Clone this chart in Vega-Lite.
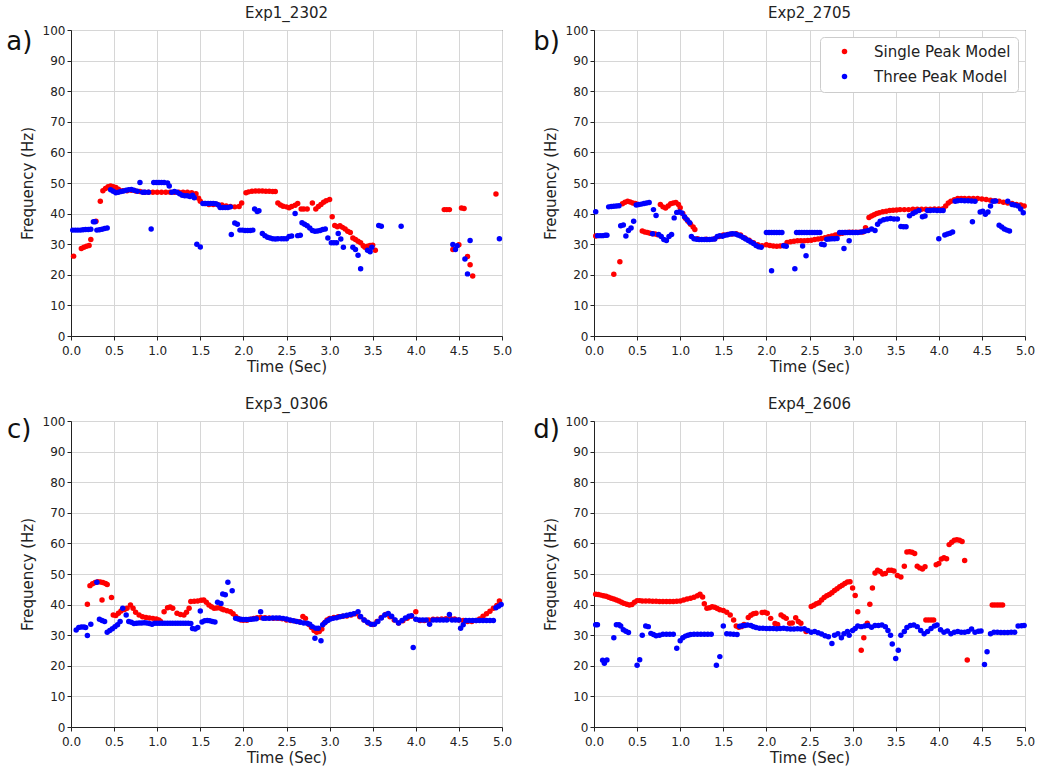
{
"$schema":"https://vega.github.io/schema/vega-lite/v6.json",
"background":"white",
"padding":5,
"config":{
 "font":"DejaVu Sans",
 "view":{"stroke":"#333","strokeWidth":1},
 "title":{"fontSize":15,"fontWeight":"normal","font":"DejaVu Sans","color":"#222","offset":3},
 "axis":{"labelFontSize":12,"titleFontSize":15,"titleFontWeight":"normal","labelFont":"DejaVu Sans","titleFont":"DejaVu Sans","gridColor":"#d6d6d6","domainColor":"#222","tickColor":"#222","labelColor":"#222","titleColor":"#222","tickSize":4,"labelOverlap":false,"labelFlush":false},
 "axisX":{"labelPadding":5,"titlePadding":3},
 "legend":{"labelFont":"DejaVu Sans"}
},
"resolve":{"legend":{"color":"independent"}},
"columns":2,
"spacing":{"row":21,"column":19},
"datasets":{
"a":[
{"m":"S","t":0.03,"f":26.1},{"m":"S","t":0.12,"f":28.6},{"m":"S","t":0.15,"f":29},{"m":"S","t":0.18,"f":29.3},{"m":"S","t":0.21,"f":29.6},{"m":"S","t":0.23,"f":31.5},{"m":"S","t":0.29,"f":37.5},{"m":"S","t":0.34,"f":44},{"m":"S","t":0.37,"f":47.5},{"m":"S","t":0.4,"f":48.2},{"m":"S","t":0.43,"f":48.8},{"m":"S","t":0.46,"f":49},{"m":"S","t":0.49,"f":48.8},{"m":"S","t":0.52,"f":48.5},{"m":"S","t":0.55,"f":48},{"m":"S","t":0.6,"f":47.5},{"m":"S","t":0.65,"f":47.5},{"m":"S","t":0.7,"f":47.6},{"m":"S","t":0.75,"f":47.4},{"m":"S","t":0.8,"f":47.2},{"m":"S","t":0.85,"f":47},{"m":"S","t":0.9,"f":47},{"m":"S","t":0.95,"f":47},{"m":"S","t":1.0,"f":47},{"m":"S","t":1.05,"f":47},{"m":"S","t":1.1,"f":47},{"m":"S","t":1.15,"f":47},{"m":"S","t":1.2,"f":47},{"m":"S","t":1.25,"f":47},{"m":"S","t":1.3,"f":47},{"m":"S","t":1.35,"f":47},{"m":"S","t":1.4,"f":46.8},{"m":"S","t":1.45,"f":46.5},{"m":"S","t":1.48,"f":45},{"m":"S","t":1.5,"f":44},{"m":"S","t":1.55,"f":43.3},{"m":"S","t":1.6,"f":43},{"m":"S","t":1.65,"f":43},{"m":"S","t":1.7,"f":43},{"m":"S","t":1.75,"f":42.8},{"m":"S","t":1.8,"f":42.5},{"m":"S","t":1.85,"f":42.3},{"m":"S","t":1.9,"f":42.2},{"m":"S","t":1.95,"f":42.3},{"m":"S","t":1.98,"f":43.5},{"m":"S","t":2.03,"f":46.8},{"m":"S","t":2.06,"f":47.1},{"m":"S","t":2.1,"f":47.3},{"m":"S","t":2.14,"f":47.4},{"m":"S","t":2.18,"f":47.4},{"m":"S","t":2.22,"f":47.4},{"m":"S","t":2.26,"f":47.3},{"m":"S","t":2.3,"f":47.3},{"m":"S","t":2.34,"f":47.2},{"m":"S","t":2.37,"f":47.2},{"m":"S","t":2.4,"f":43.5},{"m":"S","t":2.43,"f":42.8},{"m":"S","t":2.46,"f":42.4},{"m":"S","t":2.5,"f":42.2},{"m":"S","t":2.53,"f":41.9},{"m":"S","t":2.56,"f":42.3},{"m":"S","t":2.6,"f":42.7},{"m":"S","t":2.63,"f":43.3},{"m":"S","t":2.67,"f":41.5},{"m":"S","t":2.7,"f":41.5},{"m":"S","t":2.74,"f":41.5},{"m":"S","t":2.8,"f":43.5},{"m":"S","t":2.84,"f":41.5},{"m":"S","t":2.87,"f":42.3},{"m":"S","t":2.9,"f":43},{"m":"S","t":2.93,"f":43.7},{"m":"S","t":2.96,"f":44.2},{"m":"S","t":3.0,"f":44.6},{"m":"S","t":3.03,"f":39},{"m":"S","t":3.06,"f":36.1},{"m":"S","t":3.09,"f":35.7},{"m":"S","t":3.12,"f":36},{"m":"S","t":3.15,"f":35.5},{"m":"S","t":3.18,"f":35},{"m":"S","t":3.21,"f":34.2},{"m":"S","t":3.24,"f":33.8},{"m":"S","t":3.27,"f":32},{"m":"S","t":3.3,"f":31.5},{"m":"S","t":3.33,"f":31},{"m":"S","t":3.36,"f":30.5},{"m":"S","t":3.39,"f":29.5},{"m":"S","t":3.41,"f":29},{"m":"S","t":3.44,"f":29.3},{"m":"S","t":3.47,"f":29.6},{"m":"S","t":3.5,"f":29.7},{"m":"S","t":3.53,"f":28},{"m":"S","t":4.33,"f":41.3},{"m":"S","t":4.36,"f":41.3},{"m":"S","t":4.39,"f":41.3},{"m":"S","t":4.43,"f":28.3},{"m":"S","t":4.5,"f":29.8},{"m":"S","t":4.53,"f":41.8},{"m":"S","t":4.56,"f":41.7},{"m":"S","t":4.6,"f":26},{"m":"S","t":4.63,"f":23.3},{"m":"S","t":4.66,"f":19.6},{"m":"S","t":4.93,"f":46.4},
{"m":"T","t":0.02,"f":34.6},{"m":"T","t":0.05,"f":34.6},{"m":"T","t":0.08,"f":34.6},{"m":"T","t":0.11,"f":34.6},{"m":"T","t":0.14,"f":34.7},{"m":"T","t":0.17,"f":34.8},{"m":"T","t":0.2,"f":34.8},{"m":"T","t":0.23,"f":34.9},{"m":"T","t":0.26,"f":37.3},{"m":"T","t":0.28,"f":37.3},{"m":"T","t":0.3,"f":34.6},{"m":"T","t":0.33,"f":34.7},{"m":"T","t":0.36,"f":34.9},{"m":"T","t":0.39,"f":35.1},{"m":"T","t":0.42,"f":35.3},{"m":"T","t":0.46,"f":47.8},{"m":"T","t":0.49,"f":47.3},{"m":"T","t":0.52,"f":46.8},{"m":"T","t":0.55,"f":47},{"m":"T","t":0.58,"f":47.2},{"m":"T","t":0.61,"f":47.4},{"m":"T","t":0.64,"f":47.6},{"m":"T","t":0.67,"f":47.8},{"m":"T","t":0.7,"f":47.9},{"m":"T","t":0.73,"f":47.6},{"m":"T","t":0.77,"f":47.3},{"m":"T","t":0.8,"f":50.2},{"m":"T","t":0.83,"f":47},{"m":"T","t":0.86,"f":47},{"m":"T","t":0.9,"f":47},{"m":"T","t":0.93,"f":35},{"m":"T","t":0.96,"f":50.2},{"m":"T","t":0.99,"f":50.2},{"m":"T","t":1.02,"f":50.2},{"m":"T","t":1.05,"f":50.2},{"m":"T","t":1.08,"f":50.2},{"m":"T","t":1.12,"f":50},{"m":"T","t":1.14,"f":49},{"m":"T","t":1.17,"f":47},{"m":"T","t":1.2,"f":47.2},{"m":"T","t":1.23,"f":47},{"m":"T","t":1.26,"f":46.5},{"m":"T","t":1.29,"f":46},{"m":"T","t":1.32,"f":45.8},{"m":"T","t":1.35,"f":45.8},{"m":"T","t":1.38,"f":45.6},{"m":"T","t":1.41,"f":46},{"m":"T","t":1.43,"f":45.2},{"m":"T","t":1.46,"f":30},{"m":"T","t":1.5,"f":29.1},{"m":"T","t":1.53,"f":43.3},{"m":"T","t":1.56,"f":43.3},{"m":"T","t":1.59,"f":43.3},{"m":"T","t":1.62,"f":43.3},{"m":"T","t":1.65,"f":43.3},{"m":"T","t":1.68,"f":43.2},{"m":"T","t":1.71,"f":42.8},{"m":"T","t":1.73,"f":42},{"m":"T","t":1.76,"f":42},{"m":"T","t":1.79,"f":42},{"m":"T","t":1.82,"f":42},{"m":"T","t":1.85,"f":42.2},{"m":"T","t":1.86,"f":33.2},{"m":"T","t":1.9,"f":36.9},{"m":"T","t":1.93,"f":36.5},{"m":"T","t":1.96,"f":34.6},{"m":"T","t":1.99,"f":34.6},{"m":"T","t":2.02,"f":34.5},{"m":"T","t":2.05,"f":34.5},{"m":"T","t":2.08,"f":34.5},{"m":"T","t":2.11,"f":34.6},{"m":"T","t":2.13,"f":41.5},{"m":"T","t":2.16,"f":40.7},{"m":"T","t":2.18,"f":40.9},{"m":"T","t":2.22,"f":33.5},{"m":"T","t":2.25,"f":32.8},{"m":"T","t":2.28,"f":32.3},{"m":"T","t":2.31,"f":32},{"m":"T","t":2.34,"f":31.8},{"m":"T","t":2.37,"f":31.7},{"m":"T","t":2.4,"f":31.8},{"m":"T","t":2.44,"f":31.8},{"m":"T","t":2.47,"f":31.8},{"m":"T","t":2.5,"f":31.8},{"m":"T","t":2.53,"f":32.5},{"m":"T","t":2.56,"f":32.7},{"m":"T","t":2.6,"f":40},{"m":"T","t":2.63,"f":32.8},{"m":"T","t":2.66,"f":32.9},{"m":"T","t":2.68,"f":37},{"m":"T","t":2.71,"f":36.5},{"m":"T","t":2.74,"f":36},{"m":"T","t":2.77,"f":35.3},{"m":"T","t":2.8,"f":34.5},{"m":"T","t":2.83,"f":34.2},{"m":"T","t":2.86,"f":34.3},{"m":"T","t":2.89,"f":34.5},{"m":"T","t":2.92,"f":34.8},{"m":"T","t":2.95,"f":35},{"m":"T","t":2.98,"f":32},{"m":"T","t":3.02,"f":30.5},{"m":"T","t":3.05,"f":30.5},{"m":"T","t":3.08,"f":30.5},{"m":"T","t":3.1,"f":33.5},{"m":"T","t":3.13,"f":31.7},{"m":"T","t":3.16,"f":29},{"m":"T","t":3.27,"f":29},{"m":"T","t":3.3,"f":28.3},{"m":"T","t":3.33,"f":26.4},{"m":"T","t":3.36,"f":22},{"m":"T","t":3.44,"f":28},{"m":"T","t":3.47,"f":27.5},{"m":"T","t":3.49,"f":29},{"m":"T","t":3.57,"f":36.1},{"m":"T","t":3.6,"f":35.9},{"m":"T","t":3.83,"f":35.9},{"m":"T","t":4.43,"f":29.9},{"m":"T","t":4.46,"f":28.3},{"m":"T","t":4.48,"f":29.5},{"m":"T","t":4.57,"f":25.2},{"m":"T","t":4.6,"f":20.3},{"m":"T","t":4.63,"f":31.2},{"m":"T","t":4.97,"f":31.8}
],
"b":[
{"m":"S","t":0.02,"f":32.7},{"m":"S","t":0.23,"f":20.2},{"m":"S","t":0.3,"f":24.3},{"m":"S","t":0.33,"f":43.2},{"m":"S","t":0.36,"f":43.7},{"m":"S","t":0.39,"f":44},{"m":"S","t":0.42,"f":43.8},{"m":"S","t":0.45,"f":43.5},{"m":"S","t":0.48,"f":43.3},{"m":"S","t":0.51,"f":43},{"m":"S","t":0.56,"f":34.3},{"m":"S","t":0.59,"f":34},{"m":"S","t":0.62,"f":33.8},{"m":"S","t":0.65,"f":33.6},{"m":"S","t":0.68,"f":33.4},{"m":"S","t":0.71,"f":33.3},{"m":"S","t":0.74,"f":33.1},{"m":"S","t":0.77,"f":43},{"m":"S","t":0.8,"f":42.2},{"m":"S","t":0.83,"f":41.8},{"m":"S","t":0.86,"f":42.5},{"m":"S","t":0.89,"f":43.2},{"m":"S","t":0.92,"f":43.5},{"m":"S","t":0.95,"f":43.6},{"m":"S","t":0.98,"f":43},{"m":"S","t":1.0,"f":41.9},{"m":"S","t":1.03,"f":40},{"m":"S","t":1.06,"f":38.5},{"m":"S","t":1.09,"f":37.5},{"m":"S","t":1.12,"f":36.5},{"m":"S","t":1.15,"f":35.6},{"m":"S","t":1.17,"f":34.8},{"m":"S","t":1.2,"f":31.8},{"m":"S","t":1.3,"f":31.6},{"m":"S","t":1.4,"f":31.8},{"m":"S","t":1.45,"f":32.5},{"m":"S","t":1.5,"f":33},{"m":"S","t":1.55,"f":33.2},{"m":"S","t":1.6,"f":33.3},{"m":"S","t":1.65,"f":33.4},{"m":"S","t":1.7,"f":33},{"m":"S","t":1.75,"f":32},{"m":"S","t":1.8,"f":31.3},{"m":"S","t":1.85,"f":30.5},{"m":"S","t":1.9,"f":29.8},{"m":"S","t":1.95,"f":29.5},{"m":"S","t":2.0,"f":29.8},{"m":"S","t":2.04,"f":29.6},{"m":"S","t":2.08,"f":29.4},{"m":"S","t":2.12,"f":29.3},{"m":"S","t":2.16,"f":29.4},{"m":"S","t":2.2,"f":29.6},{"m":"S","t":2.24,"f":30.6},{"m":"S","t":2.28,"f":30.8},{"m":"S","t":2.32,"f":31},{"m":"S","t":2.36,"f":31.1},{"m":"S","t":2.4,"f":31.1},{"m":"S","t":2.44,"f":31.1},{"m":"S","t":2.48,"f":31.2},{"m":"S","t":2.52,"f":31.3},{"m":"S","t":2.56,"f":31.5},{"m":"S","t":2.6,"f":31.7},{"m":"S","t":2.64,"f":31.9},{"m":"S","t":2.68,"f":32.1},{"m":"S","t":2.72,"f":32.4},{"m":"S","t":2.76,"f":32.7},{"m":"S","t":2.8,"f":33},{"m":"S","t":2.84,"f":33.3},{"m":"S","t":2.88,"f":33.6},{"m":"S","t":2.92,"f":33.8},{"m":"S","t":2.96,"f":33.9},{"m":"S","t":3.0,"f":33.9},{"m":"S","t":3.04,"f":33.9},{"m":"S","t":3.08,"f":33.9},{"m":"S","t":3.12,"f":34},{"m":"S","t":3.15,"f":35.4},{"m":"S","t":3.19,"f":38.7},{"m":"S","t":3.22,"f":39.2},{"m":"S","t":3.25,"f":39.6},{"m":"S","t":3.28,"f":40},{"m":"S","t":3.31,"f":40.3},{"m":"S","t":3.35,"f":40.6},{"m":"S","t":3.39,"f":40.8},{"m":"S","t":3.43,"f":41},{"m":"S","t":3.47,"f":41.1},{"m":"S","t":3.51,"f":41.2},{"m":"S","t":3.55,"f":41.3},{"m":"S","t":3.6,"f":41.3},{"m":"S","t":3.65,"f":41.3},{"m":"S","t":3.7,"f":41.4},{"m":"S","t":3.75,"f":41.4},{"m":"S","t":3.8,"f":41.4},{"m":"S","t":3.85,"f":41.4},{"m":"S","t":3.9,"f":41.4},{"m":"S","t":3.95,"f":41.5},{"m":"S","t":4.0,"f":41.5},{"m":"S","t":4.05,"f":41.6},{"m":"S","t":4.08,"f":42.5},{"m":"S","t":4.11,"f":43.5},{"m":"S","t":4.14,"f":44},{"m":"S","t":4.18,"f":44.5},{"m":"S","t":4.22,"f":44.9},{"m":"S","t":4.26,"f":44.9},{"m":"S","t":4.3,"f":44.9},{"m":"S","t":4.35,"f":44.9},{"m":"S","t":4.4,"f":44.9},{"m":"S","t":4.45,"f":44.9},{"m":"S","t":4.5,"f":44.8},{"m":"S","t":4.55,"f":44.6},{"m":"S","t":4.6,"f":44.4},{"m":"S","t":4.65,"f":44.2},{"m":"S","t":4.7,"f":44},{"m":"S","t":4.75,"f":43.7},{"m":"S","t":4.8,"f":43.5},{"m":"S","t":4.85,"f":43.3},{"m":"S","t":4.9,"f":43},{"m":"S","t":4.95,"f":42.8},{"m":"S","t":4.99,"f":42.5},
{"m":"T","t":0.02,"f":40.6},{"m":"T","t":0.04,"f":32.8},{"m":"T","t":0.07,"f":32.8},{"m":"T","t":0.1,"f":32.8},{"m":"T","t":0.13,"f":32.9},{"m":"T","t":0.15,"f":32.9},{"m":"T","t":0.17,"f":42.2},{"m":"T","t":0.2,"f":42.3},{"m":"T","t":0.23,"f":42.4},{"m":"T","t":0.26,"f":42.5},{"m":"T","t":0.29,"f":42.6},{"m":"T","t":0.31,"f":36},{"m":"T","t":0.34,"f":36.3},{"m":"T","t":0.37,"f":32.7},{"m":"T","t":0.4,"f":34.5},{"m":"T","t":0.43,"f":35.3},{"m":"T","t":0.46,"f":37.5},{"m":"T","t":0.49,"f":42.8},{"m":"T","t":0.52,"f":43},{"m":"T","t":0.55,"f":43.1},{"m":"T","t":0.58,"f":43.3},{"m":"T","t":0.61,"f":43.5},{"m":"T","t":0.64,"f":43.6},{"m":"T","t":0.69,"f":41.3},{"m":"T","t":0.72,"f":39.4},{"m":"T","t":0.68,"f":33.4},{"m":"T","t":0.75,"f":33.2},{"m":"T","t":0.78,"f":32.5},{"m":"T","t":0.81,"f":31.5},{"m":"T","t":0.84,"f":31.2},{"m":"T","t":0.87,"f":32.5},{"m":"T","t":0.9,"f":33.2},{"m":"T","t":0.93,"f":38.6},{"m":"T","t":0.96,"f":40.4},{"m":"T","t":0.99,"f":40.5},{"m":"T","t":1.02,"f":40.2},{"m":"T","t":1.05,"f":39},{"m":"T","t":1.08,"f":38},{"m":"T","t":1.11,"f":37},{"m":"T","t":1.13,"f":32.5},{"m":"T","t":1.16,"f":31.8},{"m":"T","t":1.19,"f":31.6},{"m":"T","t":1.22,"f":31.5},{"m":"T","t":1.25,"f":31.5},{"m":"T","t":1.28,"f":31.5},{"m":"T","t":1.31,"f":31.5},{"m":"T","t":1.34,"f":31.5},{"m":"T","t":1.37,"f":31.6},{"m":"T","t":1.4,"f":31.7},{"m":"T","t":1.43,"f":32.5},{"m":"T","t":1.46,"f":32.8},{"m":"T","t":1.49,"f":32.6},{"m":"T","t":1.52,"f":32.9},{"m":"T","t":1.55,"f":33.1},{"m":"T","t":1.58,"f":33.3},{"m":"T","t":1.61,"f":33.4},{"m":"T","t":1.64,"f":33.3},{"m":"T","t":1.67,"f":33},{"m":"T","t":1.7,"f":32.7},{"m":"T","t":1.73,"f":32.2},{"m":"T","t":1.76,"f":31.7},{"m":"T","t":1.79,"f":31.2},{"m":"T","t":1.82,"f":30.7},{"m":"T","t":1.85,"f":30.2},{"m":"T","t":1.88,"f":29.6},{"m":"T","t":1.91,"f":29.2},{"m":"T","t":1.94,"f":29},{"m":"T","t":2.0,"f":33.8},{"m":"T","t":2.03,"f":33.8},{"m":"T","t":2.06,"f":21.3},{"m":"T","t":2.06,"f":33.8},{"m":"T","t":2.09,"f":33.8},{"m":"T","t":2.12,"f":33.8},{"m":"T","t":2.15,"f":33.8},{"m":"T","t":2.18,"f":33.8},{"m":"T","t":2.2,"f":29.5},{"m":"T","t":2.23,"f":29.3},{"m":"T","t":2.33,"f":22},{"m":"T","t":2.35,"f":33.8},{"m":"T","t":2.38,"f":33.8},{"m":"T","t":2.41,"f":33.8},{"m":"T","t":2.44,"f":33.8},{"m":"T","t":2.42,"f":29.4},{"m":"T","t":2.46,"f":26.2},{"m":"T","t":2.47,"f":33.8},{"m":"T","t":2.5,"f":33.8},{"m":"T","t":2.53,"f":33.8},{"m":"T","t":2.56,"f":33.8},{"m":"T","t":2.59,"f":33.8},{"m":"T","t":2.62,"f":33.8},{"m":"T","t":2.64,"f":30},{"m":"T","t":2.67,"f":29.8},{"m":"T","t":2.7,"f":31.6},{"m":"T","t":2.73,"f":31.7},{"m":"T","t":2.76,"f":31.8},{"m":"T","t":2.79,"f":31.8},{"m":"T","t":2.82,"f":31.9},{"m":"T","t":2.85,"f":33.8},{"m":"T","t":2.88,"f":33.8},{"m":"T","t":2.9,"f":28.6},{"m":"T","t":2.91,"f":33.8},{"m":"T","t":2.94,"f":33.8},{"m":"T","t":2.96,"f":31.1},{"m":"T","t":2.97,"f":33.8},{"m":"T","t":3.0,"f":33.8},{"m":"T","t":3.03,"f":33.8},{"m":"T","t":3.06,"f":33.8},{"m":"T","t":3.1,"f":34},{"m":"T","t":3.14,"f":34.2},{"m":"T","t":3.18,"f":34.5},{"m":"T","t":3.22,"f":35},{"m":"T","t":3.26,"f":34.5},{"m":"T","t":3.29,"f":36.5},{"m":"T","t":3.32,"f":37.5},{"m":"T","t":3.36,"f":38},{"m":"T","t":3.4,"f":38.2},{"m":"T","t":3.44,"f":38.4},{"m":"T","t":3.48,"f":38.2},{"m":"T","t":3.52,"f":38.2},{"m":"T","t":3.56,"f":35.8},{"m":"T","t":3.59,"f":35.7},{"m":"T","t":3.62,"f":35.7},{"m":"T","t":3.66,"f":39.3},{"m":"T","t":3.7,"f":40},{"m":"T","t":3.73,"f":40.5},{"m":"T","t":3.77,"f":41},{"m":"T","t":3.81,"f":39},{"m":"T","t":3.84,"f":39.2},{"m":"T","t":3.87,"f":41},{"m":"T","t":3.9,"f":41},{"m":"T","t":3.94,"f":41.1},{"m":"T","t":3.98,"f":41},{"m":"T","t":4.0,"f":31.8},{"m":"T","t":4.02,"f":41},{"m":"T","t":4.05,"f":41},{"m":"T","t":4.07,"f":33},{"m":"T","t":4.1,"f":33.3},{"m":"T","t":4.13,"f":33.6},{"m":"T","t":4.16,"f":34},{"m":"T","t":4.19,"f":44},{"m":"T","t":4.22,"f":44.2},{"m":"T","t":4.26,"f":44.3},{"m":"T","t":4.3,"f":44.2},{"m":"T","t":4.34,"f":44.2},{"m":"T","t":4.38,"f":44.1},{"m":"T","t":4.39,"f":37.3},{"m":"T","t":4.42,"f":44},{"m":"T","t":4.48,"f":40.5},{"m":"T","t":4.51,"f":40.8},{"m":"T","t":4.54,"f":39.8},{"m":"T","t":4.57,"f":40.5},{"m":"T","t":4.6,"f":42.5},{"m":"T","t":4.63,"f":44},{"m":"T","t":4.66,"f":44.1},{"m":"T","t":4.7,"f":36.2},{"m":"T","t":4.73,"f":35.6},{"m":"T","t":4.76,"f":35},{"m":"T","t":4.79,"f":34.6},{"m":"T","t":4.82,"f":34.3},{"m":"T","t":4.8,"f":44},{"m":"T","t":4.85,"f":43},{"m":"T","t":4.88,"f":42.8},{"m":"T","t":4.92,"f":42.5},{"m":"T","t":4.95,"f":41.5},{"m":"T","t":4.98,"f":40.3}
],
"c":[
{"m":"S","t":0.19,"f":40.1},{"m":"S","t":0.22,"f":46.2},{"m":"S","t":0.25,"f":46.8},{"m":"S","t":0.28,"f":47.2},{"m":"S","t":0.31,"f":47.5},{"m":"S","t":0.34,"f":47.4},{"m":"S","t":0.37,"f":47.2},{"m":"S","t":0.4,"f":46.9},{"m":"S","t":0.42,"f":46.6},{"m":"S","t":0.36,"f":41.5},{"m":"S","t":0.47,"f":42.3},{"m":"S","t":0.49,"f":36.6},{"m":"S","t":0.52,"f":36.4},{"m":"S","t":0.55,"f":37.2},{"m":"S","t":0.58,"f":37.9},{"m":"S","t":0.62,"f":38.4},{"m":"S","t":0.65,"f":38.8},{"m":"S","t":0.69,"f":39.9},{"m":"S","t":0.72,"f":38.8},{"m":"S","t":0.75,"f":37.5},{"m":"S","t":0.79,"f":36.6},{"m":"S","t":0.83,"f":36},{"m":"S","t":0.87,"f":35.8},{"m":"S","t":0.91,"f":35.6},{"m":"S","t":0.95,"f":35.5},{"m":"S","t":0.99,"f":35.3},{"m":"S","t":1.02,"f":35},{"m":"S","t":1.04,"f":34.5},{"m":"S","t":1.08,"f":37.7},{"m":"S","t":1.12,"f":39},{"m":"S","t":1.15,"f":39.2},{"m":"S","t":1.18,"f":38.8},{"m":"S","t":1.23,"f":37.2},{"m":"S","t":1.27,"f":36.8},{"m":"S","t":1.31,"f":36.6},{"m":"S","t":1.34,"f":37.5},{"m":"S","t":1.37,"f":38.8},{"m":"S","t":1.39,"f":41},{"m":"S","t":1.43,"f":41.1},{"m":"S","t":1.47,"f":41.2},{"m":"S","t":1.51,"f":41.4},{"m":"S","t":1.54,"f":41.5},{"m":"S","t":1.57,"f":40.8},{"m":"S","t":1.6,"f":39.9},{"m":"S","t":1.63,"f":39.3},{"m":"S","t":1.66,"f":38.8},{"m":"S","t":1.69,"f":38.9},{"m":"S","t":1.72,"f":39},{"m":"S","t":1.75,"f":38.6},{"m":"S","t":1.77,"f":38.3},{"m":"S","t":1.81,"f":38},{"m":"S","t":1.85,"f":37.7},{"m":"S","t":1.88,"f":37},{"m":"S","t":1.91,"f":36.1},{"m":"S","t":1.94,"f":35.5},{"m":"S","t":1.97,"f":35},{"m":"S","t":2.0,"f":34.9},{"m":"S","t":2.04,"f":34.9},{"m":"S","t":2.08,"f":35.2},{"m":"S","t":2.12,"f":35.5},{"m":"S","t":2.16,"f":35.7},{"m":"S","t":2.2,"f":35.8},{"m":"S","t":2.25,"f":35.7},{"m":"S","t":2.3,"f":35.6},{"m":"S","t":2.35,"f":35.5},{"m":"S","t":2.4,"f":35.5},{"m":"S","t":2.45,"f":35.4},{"m":"S","t":2.5,"f":35},{"m":"S","t":2.55,"f":34.8},{"m":"S","t":2.6,"f":34.6},{"m":"S","t":2.65,"f":34.4},{"m":"S","t":2.69,"f":36.1},{"m":"S","t":2.72,"f":35.5},{"m":"S","t":2.76,"f":33.5},{"m":"S","t":2.79,"f":32.5},{"m":"S","t":2.82,"f":31.5},{"m":"S","t":2.85,"f":31},{"m":"S","t":2.88,"f":31.2},{"m":"S","t":2.91,"f":32},{"m":"S","t":2.94,"f":34},{"m":"S","t":2.97,"f":35},{"m":"S","t":3.0,"f":35.5},{"m":"S","t":3.05,"f":35.8},{"m":"S","t":3.1,"f":36},{"m":"S","t":3.15,"f":36.2},{"m":"S","t":3.2,"f":36.3},{"m":"S","t":3.25,"f":36.6},{"m":"S","t":3.3,"f":37},{"m":"S","t":3.35,"f":36},{"m":"S","t":3.4,"f":35},{"m":"S","t":3.45,"f":34},{"m":"S","t":3.5,"f":33.5},{"m":"S","t":3.55,"f":34.5},{"m":"S","t":3.6,"f":35.8},{"m":"S","t":3.65,"f":36.8},{"m":"S","t":3.7,"f":36},{"m":"S","t":3.75,"f":35},{"m":"S","t":3.8,"f":34},{"m":"S","t":3.85,"f":34.7},{"m":"S","t":3.9,"f":35.5},{"m":"S","t":3.95,"f":36.2},{"m":"S","t":4.0,"f":37.7},{"m":"S","t":4.05,"f":34.8},{"m":"S","t":4.1,"f":34.8},{"m":"S","t":4.15,"f":35},{"m":"S","t":4.2,"f":35.2},{"m":"S","t":4.25,"f":35.2},{"m":"S","t":4.3,"f":35.3},{"m":"S","t":4.35,"f":35.4},{"m":"S","t":4.4,"f":35.5},{"m":"S","t":4.45,"f":35.3},{"m":"S","t":4.5,"f":35},{"m":"S","t":4.55,"f":34.8},{"m":"S","t":4.6,"f":34.5},{"m":"S","t":4.65,"f":34.5},{"m":"S","t":4.7,"f":34.8},{"m":"S","t":4.74,"f":35.3},{"m":"S","t":4.78,"f":36.2},{"m":"S","t":4.82,"f":37},{"m":"S","t":4.86,"f":37.8},{"m":"S","t":4.9,"f":38.8},{"m":"S","t":4.94,"f":39.7},{"m":"S","t":4.97,"f":41.2},
{"m":"T","t":0.06,"f":31.7},{"m":"T","t":0.09,"f":32.5},{"m":"T","t":0.12,"f":32.7},{"m":"T","t":0.15,"f":32.7},{"m":"T","t":0.17,"f":32.5},{"m":"T","t":0.19,"f":29.9},{"m":"T","t":0.23,"f":33.6},{"m":"T","t":0.3,"f":47.3},{"m":"T","t":0.33,"f":35.2},{"m":"T","t":0.36,"f":34.8},{"m":"T","t":0.39,"f":34.5},{"m":"T","t":0.42,"f":31},{"m":"T","t":0.45,"f":31.5},{"m":"T","t":0.48,"f":32.1},{"m":"T","t":0.51,"f":32.8},{"m":"T","t":0.54,"f":33.4},{"m":"T","t":0.57,"f":34.5},{"m":"T","t":0.6,"f":38.8},{"m":"T","t":0.64,"f":36.6},{"m":"T","t":0.67,"f":34.5},{"m":"T","t":0.7,"f":34.2},{"m":"T","t":0.73,"f":33.8},{"m":"T","t":0.76,"f":33.9},{"m":"T","t":0.79,"f":34},{"m":"T","t":0.82,"f":34},{"m":"T","t":0.85,"f":34.1},{"m":"T","t":0.88,"f":34},{"m":"T","t":0.91,"f":33.8},{"m":"T","t":0.94,"f":33.6},{"m":"T","t":0.97,"f":33.9},{"m":"T","t":1.0,"f":33.9},{"m":"T","t":1.03,"f":33.9},{"m":"T","t":1.06,"f":33.9},{"m":"T","t":1.09,"f":33.9},{"m":"T","t":1.12,"f":33.9},{"m":"T","t":1.15,"f":33.9},{"m":"T","t":1.18,"f":33.9},{"m":"T","t":1.21,"f":33.9},{"m":"T","t":1.24,"f":33.9},{"m":"T","t":1.27,"f":33.9},{"m":"T","t":1.3,"f":33.9},{"m":"T","t":1.33,"f":33.9},{"m":"T","t":1.36,"f":33.9},{"m":"T","t":1.39,"f":33.8},{"m":"T","t":1.41,"f":32.2},{"m":"T","t":1.44,"f":32},{"m":"T","t":1.47,"f":32.5},{"m":"T","t":1.5,"f":37.9},{"m":"T","t":1.52,"f":34.3},{"m":"T","t":1.55,"f":34.7},{"m":"T","t":1.58,"f":34.8},{"m":"T","t":1.61,"f":34.7},{"m":"T","t":1.64,"f":34.5},{"m":"T","t":1.67,"f":34.3},{"m":"T","t":1.7,"f":40.8},{"m":"T","t":1.74,"f":40.4},{"m":"T","t":1.76,"f":43.5},{"m":"T","t":1.79,"f":43.2},{"m":"T","t":1.82,"f":47.3},{"m":"T","t":1.87,"f":44.5},{"m":"T","t":1.91,"f":35.5},{"m":"T","t":1.94,"f":35.3},{"m":"T","t":1.97,"f":35.2},{"m":"T","t":2.0,"f":35.1},{"m":"T","t":2.03,"f":35.1},{"m":"T","t":2.06,"f":35.1},{"m":"T","t":2.09,"f":35.2},{"m":"T","t":2.12,"f":35.3},{"m":"T","t":2.15,"f":35.4},{"m":"T","t":2.2,"f":37.7},{"m":"T","t":2.23,"f":35.5},{"m":"T","t":2.26,"f":35.5},{"m":"T","t":2.3,"f":35.5},{"m":"T","t":2.34,"f":35.6},{"m":"T","t":2.38,"f":35.6},{"m":"T","t":2.42,"f":35.6},{"m":"T","t":2.46,"f":35.5},{"m":"T","t":2.5,"f":35.3},{"m":"T","t":2.54,"f":35},{"m":"T","t":2.58,"f":34.7},{"m":"T","t":2.62,"f":34.5},{"m":"T","t":2.66,"f":34.2},{"m":"T","t":2.7,"f":34},{"m":"T","t":2.74,"f":33.9},{"m":"T","t":2.77,"f":33.6},{"m":"T","t":2.8,"f":32.8},{"m":"T","t":2.83,"f":29},{"m":"T","t":2.84,"f":32.3},{"m":"T","t":2.87,"f":32.3},{"m":"T","t":2.9,"f":28.2},{"m":"T","t":2.92,"f":33.4},{"m":"T","t":2.95,"f":34.2},{"m":"T","t":2.98,"f":34.8},{"m":"T","t":3.01,"f":35.3},{"m":"T","t":3.04,"f":35.5},{"m":"T","t":3.08,"f":35.7},{"m":"T","t":3.12,"f":36},{"m":"T","t":3.16,"f":36.3},{"m":"T","t":3.2,"f":36.5},{"m":"T","t":3.24,"f":36.8},{"m":"T","t":3.28,"f":37},{"m":"T","t":3.33,"f":37.7},{"m":"T","t":3.36,"f":36.1},{"m":"T","t":3.4,"f":35},{"m":"T","t":3.44,"f":34.2},{"m":"T","t":3.48,"f":33.6},{"m":"T","t":3.52,"f":33.6},{"m":"T","t":3.56,"f":34.5},{"m":"T","t":3.6,"f":35.6},{"m":"T","t":3.64,"f":36.6},{"m":"T","t":3.68,"f":37.1},{"m":"T","t":3.72,"f":36.2},{"m":"T","t":3.76,"f":35},{"m":"T","t":3.8,"f":34},{"m":"T","t":3.84,"f":34.8},{"m":"T","t":3.88,"f":35.6},{"m":"T","t":3.92,"f":36.2},{"m":"T","t":3.95,"f":36.4},{"m":"T","t":3.97,"f":26},{"m":"T","t":4.0,"f":35.2},{"m":"T","t":4.04,"f":35},{"m":"T","t":4.08,"f":35},{"m":"T","t":4.12,"f":35},{"m":"T","t":4.16,"f":33.6},{"m":"T","t":4.2,"f":35},{"m":"T","t":4.24,"f":35},{"m":"T","t":4.28,"f":35},{"m":"T","t":4.32,"f":35},{"m":"T","t":4.36,"f":35},{"m":"T","t":4.39,"f":36.8},{"m":"T","t":4.42,"f":35},{"m":"T","t":4.46,"f":35},{"m":"T","t":4.5,"f":35},{"m":"T","t":4.52,"f":32.3},{"m":"T","t":4.55,"f":33.4},{"m":"T","t":4.58,"f":34.8},{"m":"T","t":4.62,"f":34.8},{"m":"T","t":4.66,"f":34.8},{"m":"T","t":4.7,"f":34.8},{"m":"T","t":4.74,"f":34.8},{"m":"T","t":4.78,"f":34.8},{"m":"T","t":4.82,"f":34.8},{"m":"T","t":4.86,"f":34.8},{"m":"T","t":4.9,"f":34.8},{"m":"T","t":4.93,"f":39},{"m":"T","t":4.96,"f":39.5},{"m":"T","t":4.99,"f":40}
],
"d":[
{"m":"S","t":0.02,"f":43.4},{"m":"S","t":0.05,"f":43.3},{"m":"S","t":0.08,"f":43.1},{"m":"S","t":0.11,"f":42.9},{"m":"S","t":0.14,"f":42.7},{"m":"S","t":0.17,"f":42.4},{"m":"S","t":0.2,"f":42.1},{"m":"S","t":0.23,"f":41.8},{"m":"S","t":0.26,"f":41.5},{"m":"S","t":0.29,"f":41.2},{"m":"S","t":0.32,"f":40.8},{"m":"S","t":0.35,"f":40.4},{"m":"S","t":0.38,"f":40.1},{"m":"S","t":0.41,"f":39.9},{"m":"S","t":0.44,"f":40},{"m":"S","t":0.47,"f":40.8},{"m":"S","t":0.5,"f":41.3},{"m":"S","t":0.53,"f":41.3},{"m":"S","t":0.56,"f":41.2},{"m":"S","t":0.6,"f":41.2},{"m":"S","t":0.64,"f":41.2},{"m":"S","t":0.68,"f":41.1},{"m":"S","t":0.72,"f":41.1},{"m":"S","t":0.76,"f":41},{"m":"S","t":0.8,"f":41},{"m":"S","t":0.84,"f":41},{"m":"S","t":0.88,"f":41},{"m":"S","t":0.92,"f":41},{"m":"S","t":0.96,"f":41.1},{"m":"S","t":1.0,"f":41.2},{"m":"S","t":1.04,"f":41.5},{"m":"S","t":1.08,"f":41.8},{"m":"S","t":1.12,"f":42.1},{"m":"S","t":1.16,"f":42.4},{"m":"S","t":1.2,"f":42.9},{"m":"S","t":1.23,"f":43.4},{"m":"S","t":1.26,"f":42.5},{"m":"S","t":1.28,"f":40.3},{"m":"S","t":1.31,"f":38.8},{"m":"S","t":1.34,"f":39},{"m":"S","t":1.37,"f":39.3},{"m":"S","t":1.4,"f":39.1},{"m":"S","t":1.43,"f":38.7},{"m":"S","t":1.46,"f":38.3},{"m":"S","t":1.5,"f":38.1},{"m":"S","t":1.54,"f":37.5},{"m":"S","t":1.58,"f":36.6},{"m":"S","t":1.62,"f":35},{"m":"S","t":1.65,"f":33},{"m":"S","t":1.68,"f":32.6},{"m":"S","t":1.71,"f":32.8},{"m":"S","t":1.74,"f":33.5},{"m":"S","t":1.79,"f":35.8},{"m":"S","t":1.82,"f":36.5},{"m":"S","t":1.85,"f":37},{"m":"S","t":1.88,"f":37.2},{"m":"S","t":1.95,"f":37.4},{"m":"S","t":1.98,"f":37.5},{"m":"S","t":2.01,"f":37.2},{"m":"S","t":2.05,"f":35.5},{"m":"S","t":2.1,"f":33.8},{"m":"S","t":2.13,"f":33.5},{"m":"S","t":2.17,"f":36.6},{"m":"S","t":2.2,"f":36},{"m":"S","t":2.23,"f":35.5},{"m":"S","t":2.27,"f":33.9},{"m":"S","t":2.3,"f":34},{"m":"S","t":2.34,"f":35.7},{"m":"S","t":2.37,"f":34.5},{"m":"S","t":2.4,"f":33.9},{"m":"S","t":2.46,"f":31.2},{"m":"S","t":2.52,"f":39.4},{"m":"S","t":2.55,"f":39.8},{"m":"S","t":2.58,"f":40.3},{"m":"S","t":2.61,"f":40.6},{"m":"S","t":2.64,"f":41.5},{"m":"S","t":2.67,"f":42.3},{"m":"S","t":2.7,"f":42.9},{"m":"S","t":2.73,"f":43.3},{"m":"S","t":2.76,"f":43.9},{"m":"S","t":2.79,"f":44.6},{"m":"S","t":2.82,"f":45.2},{"m":"S","t":2.85,"f":45.8},{"m":"S","t":2.88,"f":46.3},{"m":"S","t":2.91,"f":46.9},{"m":"S","t":2.94,"f":47.4},{"m":"S","t":2.97,"f":47.5},{"m":"S","t":3.0,"f":45.4},{"m":"S","t":3.03,"f":43},{"m":"S","t":3.06,"f":37.7},{"m":"S","t":3.1,"f":25.1},{"m":"S","t":3.13,"f":29.2},{"m":"S","t":3.17,"f":33.9},{"m":"S","t":3.2,"f":40.1},{"m":"S","t":3.23,"f":45.4},{"m":"S","t":3.26,"f":50.3},{"m":"S","t":3.29,"f":51.2},{"m":"S","t":3.32,"f":50.8},{"m":"S","t":3.35,"f":50},{"m":"S","t":3.38,"f":50.2},{"m":"S","t":3.42,"f":51.2},{"m":"S","t":3.45,"f":51.2},{"m":"S","t":3.48,"f":51},{"m":"S","t":3.52,"f":49.5},{"m":"S","t":3.56,"f":49},{"m":"S","t":3.6,"f":52.5},{"m":"S","t":3.63,"f":57.2},{"m":"S","t":3.66,"f":57.3},{"m":"S","t":3.69,"f":57.1},{"m":"S","t":3.72,"f":56.7},{"m":"S","t":3.75,"f":52.5},{"m":"S","t":3.78,"f":52},{"m":"S","t":3.81,"f":51.6},{"m":"S","t":3.84,"f":52.4},{"m":"S","t":3.85,"f":35},{"m":"S","t":3.88,"f":35},{"m":"S","t":3.91,"f":35},{"m":"S","t":3.94,"f":35},{"m":"S","t":3.97,"f":53},{"m":"S","t":4.0,"f":53.4},{"m":"S","t":4.03,"f":54.9},{"m":"S","t":4.06,"f":55.3},{"m":"S","t":4.09,"f":55},{"m":"S","t":4.12,"f":59.6},{"m":"S","t":4.15,"f":60.4},{"m":"S","t":4.18,"f":61},{"m":"S","t":4.21,"f":61.2},{"m":"S","t":4.24,"f":61},{"m":"S","t":4.27,"f":60.6},{"m":"S","t":4.3,"f":54.4},{"m":"S","t":4.33,"f":21.9},{"m":"S","t":4.62,"f":39.9},{"m":"S","t":4.65,"f":39.9},{"m":"S","t":4.68,"f":39.9},{"m":"S","t":4.71,"f":39.9},{"m":"S","t":4.74,"f":39.9},
{"m":"T","t":0.02,"f":33.4},{"m":"T","t":0.04,"f":33.4},{"m":"T","t":0.1,"f":21.8},{"m":"T","t":0.12,"f":20.8},{"m":"T","t":0.15,"f":21.9},{"m":"T","t":0.23,"f":29.2},{"m":"T","t":0.26,"f":33.4},{"m":"T","t":0.29,"f":33.4},{"m":"T","t":0.31,"f":33},{"m":"T","t":0.34,"f":31.8},{"m":"T","t":0.37,"f":31.3},{"m":"T","t":0.4,"f":30.9},{"m":"T","t":0.5,"f":20.2},{"m":"T","t":0.53,"f":22},{"m":"T","t":0.56,"f":30},{"m":"T","t":0.6,"f":33},{"m":"T","t":0.63,"f":32.8},{"m":"T","t":0.66,"f":30.6},{"m":"T","t":0.69,"f":30.2},{"m":"T","t":0.72,"f":29.8},{"m":"T","t":0.76,"f":30},{"m":"T","t":0.8,"f":30.3},{"m":"T","t":0.84,"f":30.3},{"m":"T","t":0.88,"f":30.3},{"m":"T","t":0.92,"f":30.3},{"m":"T","t":0.96,"f":25.7},{"m":"T","t":1.0,"f":28.2},{"m":"T","t":1.03,"f":29.2},{"m":"T","t":1.06,"f":29.7},{"m":"T","t":1.09,"f":30},{"m":"T","t":1.12,"f":30.2},{"m":"T","t":1.16,"f":30.3},{"m":"T","t":1.2,"f":30.3},{"m":"T","t":1.24,"f":30.3},{"m":"T","t":1.28,"f":30.3},{"m":"T","t":1.32,"f":30.3},{"m":"T","t":1.36,"f":30.3},{"m":"T","t":1.42,"f":20.2},{"m":"T","t":1.46,"f":23},{"m":"T","t":1.5,"f":33},{"m":"T","t":1.54,"f":30.5},{"m":"T","t":1.58,"f":30.4},{"m":"T","t":1.62,"f":30.3},{"m":"T","t":1.66,"f":30.2},{"m":"T","t":1.69,"f":32.9},{"m":"T","t":1.72,"f":33.1},{"m":"T","t":1.75,"f":33.2},{"m":"T","t":1.78,"f":33.3},{"m":"T","t":1.82,"f":33.2},{"m":"T","t":1.85,"f":32.8},{"m":"T","t":1.88,"f":32.5},{"m":"T","t":1.92,"f":32.3},{"m":"T","t":1.96,"f":32.3},{"m":"T","t":2.0,"f":32.2},{"m":"T","t":2.04,"f":32.2},{"m":"T","t":2.08,"f":32.2},{"m":"T","t":2.12,"f":32.1},{"m":"T","t":2.16,"f":32.2},{"m":"T","t":2.2,"f":32.3},{"m":"T","t":2.24,"f":32.1},{"m":"T","t":2.28,"f":32},{"m":"T","t":2.32,"f":32},{"m":"T","t":2.36,"f":32.1},{"m":"T","t":2.4,"f":32},{"m":"T","t":2.44,"f":32.1},{"m":"T","t":2.48,"f":31.5},{"m":"T","t":2.52,"f":31},{"m":"T","t":2.56,"f":31.2},{"m":"T","t":2.6,"f":30.8},{"m":"T","t":2.64,"f":30.4},{"m":"T","t":2.68,"f":29.8},{"m":"T","t":2.72,"f":29.5},{"m":"T","t":2.76,"f":27.3},{"m":"T","t":2.79,"f":30},{"m":"T","t":2.83,"f":30.5},{"m":"T","t":2.87,"f":29.2},{"m":"T","t":2.9,"f":30.5},{"m":"T","t":2.94,"f":31.2},{"m":"T","t":2.96,"f":30},{"m":"T","t":3.0,"f":31.5},{"m":"T","t":3.03,"f":32.2},{"m":"T","t":3.06,"f":33},{"m":"T","t":3.1,"f":32.8},{"m":"T","t":3.14,"f":33},{"m":"T","t":3.18,"f":33.2},{"m":"T","t":3.22,"f":32.6},{"m":"T","t":3.26,"f":33.2},{"m":"T","t":3.3,"f":33.2},{"m":"T","t":3.34,"f":33.3},{"m":"T","t":3.38,"f":32.8},{"m":"T","t":3.41,"f":31.5},{"m":"T","t":3.44,"f":30},{"m":"T","t":3.46,"f":27.1},{"m":"T","t":3.5,"f":22.4},{"m":"T","t":3.53,"f":25.1},{"m":"T","t":3.56,"f":30},{"m":"T","t":3.6,"f":31.2},{"m":"T","t":3.63,"f":32.5},{"m":"T","t":3.67,"f":33.2},{"m":"T","t":3.71,"f":33.3},{"m":"T","t":3.75,"f":32.8},{"m":"T","t":3.79,"f":31.5},{"m":"T","t":3.83,"f":30.5},{"m":"T","t":3.87,"f":31.2},{"m":"T","t":3.91,"f":32.2},{"m":"T","t":3.95,"f":33},{"m":"T","t":3.98,"f":33.3},{"m":"T","t":4.02,"f":31.8},{"m":"T","t":4.06,"f":31},{"m":"T","t":4.1,"f":31.4},{"m":"T","t":4.14,"f":30.5},{"m":"T","t":4.18,"f":31},{"m":"T","t":4.22,"f":31.2},{"m":"T","t":4.26,"f":31},{"m":"T","t":4.3,"f":31},{"m":"T","t":4.34,"f":31.2},{"m":"T","t":4.38,"f":32},{"m":"T","t":4.42,"f":31},{"m":"T","t":4.46,"f":31.3},{"m":"T","t":4.49,"f":31.4},{"m":"T","t":4.53,"f":20.4},{"m":"T","t":4.56,"f":24.6},{"m":"T","t":4.6,"f":30.5},{"m":"T","t":4.64,"f":31},{"m":"T","t":4.68,"f":31},{"m":"T","t":4.72,"f":30.9},{"m":"T","t":4.76,"f":30.9},{"m":"T","t":4.8,"f":30.9},{"m":"T","t":4.84,"f":31},{"m":"T","t":4.88,"f":31},{"m":"T","t":4.92,"f":33},{"m":"T","t":4.96,"f":33.1},{"m":"T","t":4.99,"f":33.2}
]
},
"concat":[
{"width":431,"height":306,"title":"Exp1_2302","data":{"name":"a"},
 "encoding":{
  "x":{"field":"t","type":"quantitative","scale":{"domain":[0,5],"nice":false},"axis":{"title":"Time (Sec)","values":[0,0.5,1,1.5,2,2.5,3,3.5,4,4.5,5],"format":".1f"}},
  "y":{"field":"f","type":"quantitative","scale":{"domain":[0,100],"nice":false},"axis":{"title":"Frequency (Hz)","values":[0,10,20,30,40,50,60,70,80,90,100],"titlePadding":7}}},
 "layer":[
  {"mark":{"type":"circle","size":30,"opacity":1},
   "encoding":{"color":{"field":"m","type":"nominal","scale":{"domain":["S","T"],"range":["#ff0000","#0000ff"]},"legend":null}}},
  {"data":{"values":[{"lab":"a)","t":-0.6,"f":96}]},"mark":{"type":"text","fontSize":26,"font":"DejaVu Sans","color":"#111","align":"center","baseline":"middle"},
   "encoding":{"text":{"field":"lab"}}}
 ]},
{"width":431,"height":306,"title":"Exp2_2705","data":{"name":"b"},
 "encoding":{
  "x":{"field":"t","type":"quantitative","scale":{"domain":[0,5],"nice":false},"axis":{"title":"Time (Sec)","values":[0,0.5,1,1.5,2,2.5,3,3.5,4,4.5,5],"format":".1f"}},
  "y":{"field":"f","type":"quantitative","scale":{"domain":[0,100],"nice":false},"axis":{"title":"Frequency (Hz)","values":[0,10,20,30,40,50,60,70,80,90,100],"titlePadding":7}}},
 "layer":[
  {"mark":{"type":"circle","size":30,"opacity":1},
   "encoding":{"color":{"field":"m","type":"nominal","scale":{"domain":["S","T"],"range":["#ff0000","#0000ff"]},
     "legend":{"title":null,"orient":"top-right","offset":7,"fillColor":"white","strokeColor":"#cccccc","cornerRadius":4,"padding":7,"symbolType":"circle","symbolSize":30,"labelFontSize":15,"labelColor":"#222","labelOffset":22,"symbolOffset":10,"rowPadding":9,"labelExpr":"datum.label == 'S' ? 'Single Peak Model' : 'Three Peak Model'"}}}},
  {"data":{"values":[{"lab":"b)","t":-0.55,"f":96}]},"mark":{"type":"text","fontSize":26,"font":"DejaVu Sans","color":"#111","align":"center","baseline":"middle"},
   "encoding":{"text":{"field":"lab"}}}
 ]},
{"width":431,"height":306,"title":"Exp3_0306","data":{"name":"c"},
 "encoding":{
  "x":{"field":"t","type":"quantitative","scale":{"domain":[0,5],"nice":false},"axis":{"title":"Time (Sec)","values":[0,0.5,1,1.5,2,2.5,3,3.5,4,4.5,5],"format":".1f"}},
  "y":{"field":"f","type":"quantitative","scale":{"domain":[0,100],"nice":false},"axis":{"title":"Frequency (Hz)","values":[0,10,20,30,40,50,60,70,80,90,100],"titlePadding":7}}},
 "layer":[
  {"mark":{"type":"circle","size":30,"opacity":1},
   "encoding":{"color":{"field":"m","type":"nominal","scale":{"domain":["S","T"],"range":["#ff0000","#0000ff"]},"legend":null}}},
  {"data":{"values":[{"lab":"c)","t":-0.6,"f":97}]},"mark":{"type":"text","fontSize":26,"font":"DejaVu Sans","color":"#111","align":"center","baseline":"middle"},
   "encoding":{"text":{"field":"lab"}}}
 ]},
{"width":431,"height":306,"title":"Exp4_2606","data":{"name":"d"},
 "encoding":{
  "x":{"field":"t","type":"quantitative","scale":{"domain":[0,5],"nice":false},"axis":{"title":"Time (Sec)","values":[0,0.5,1,1.5,2,2.5,3,3.5,4,4.5,5],"format":".1f"}},
  "y":{"field":"f","type":"quantitative","scale":{"domain":[0,100],"nice":false},"axis":{"title":"Frequency (Hz)","values":[0,10,20,30,40,50,60,70,80,90,100],"titlePadding":7}}},
 "layer":[
  {"mark":{"type":"circle","size":30,"opacity":1},
   "encoding":{"color":{"field":"m","type":"nominal","scale":{"domain":["S","T"],"range":["#ff0000","#0000ff"]},"legend":null}}},
  {"data":{"values":[{"lab":"d)","t":-0.55,"f":97}]},"mark":{"type":"text","fontSize":26,"font":"DejaVu Sans","color":"#111","align":"center","baseline":"middle"},
   "encoding":{"text":{"field":"lab"}}}
 ]}
]
}
